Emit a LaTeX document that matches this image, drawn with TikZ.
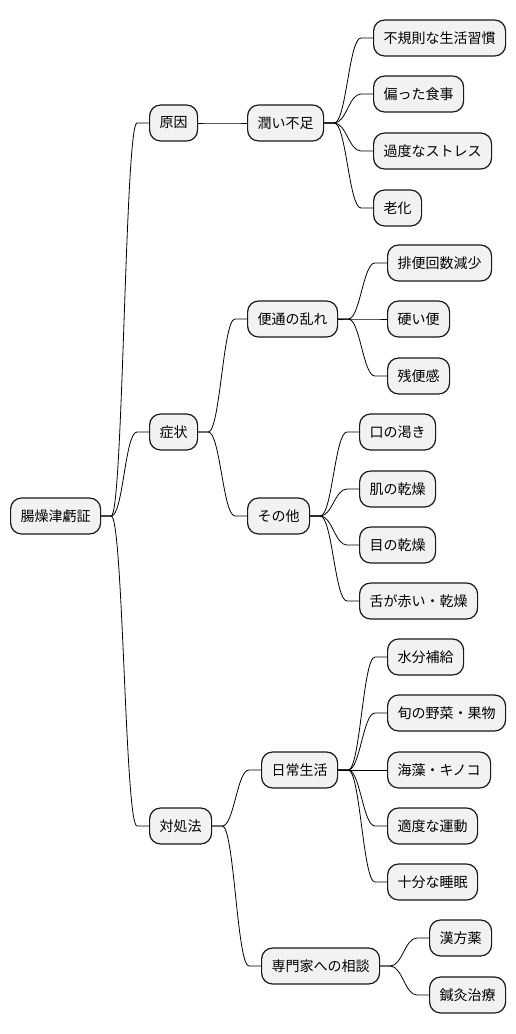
\documentclass[tikz,border=0pt]{standalone}
\usepackage{fontspec}
\setmainfont{Noto Sans CJK JP}
\begin{document}
\begin{tikzpicture}[x=1pt,y=-1pt,
				every node/.style={draw=black!90,fill=black!5,line width=1.2pt,rounded corners=11pt,
					anchor=west,minimum height=36pt,inner xsep=10pt,inner ysep=0pt,font=\fontsize{14pt}{16pt}\selectfont},
				link/.style={line width=0.8pt,to path={-- ++(10pt,0) .. controls +(12pt,0) and +(-12pt,0)
					.. ([xshift=-12pt]\tikztotarget) -- (\tikztotarget)}}]
\useasboundingbox (0,0) rectangle (516,1034);
\node (root) at (10,516) {腸燥津虧証};
% first level
\node (gen) at (149,123) {原因};
\node (sho) at (149,432) {症状};
\node (tai) at (149,826) {対処法};
% second level
\node (uru) at (247,123) {潤い不足};
\node (ben) at (247,319) {便通の乱れ};
\node (hoka) at (247,516) {その他};
\node (nichi) at (261,770) {日常生活};
\node (sen) at (261,966) {専門家への相談};
% leaves
\node (fuki) at (373,38) {不規則な生活習慣};
\node (katayo) at (373,94) {偏った食事};
\node (stress) at (373,151) {過度なストレス};
\node (roka) at (373,208) {老化};
\node (haiben) at (387,263) {排便回数減少};
\node (katai) at (387,319) {硬い便};
\node (zanben) at (387,376) {残便感};
\node (kuchi) at (359,432) {口の渇き};
\node (hada) at (359,489) {肌の乾燥};
\node (me) at (359,545) {目の乾燥};
\node (shita) at (359,601) {舌が赤い・乾燥};
\node (suibun) at (387,657) {水分補給};
\node (shun) at (387,713) {旬の野菜・果物};
\node (kaiso) at (387,770) {海藻・キノコ};
\node (undo) at (387,826) {適度な運動};
\node (suimin) at (387,882) {十分な睡眠};
\node (kanpo) at (429,938) {漢方薬};
\node (shinkyu) at (429,995) {鍼灸治療};
\foreach \p/\c in {root/gen,root/sho,root/tai,gen/uru,sho/ben,sho/hoka,tai/nichi,tai/sen,
	uru/fuki,uru/katayo,uru/stress,uru/roka,ben/haiben,ben/katai,ben/zanben,
	hoka/kuchi,hoka/hada,hoka/me,hoka/shita,nichi/suibun,nichi/shun,nichi/kaiso,nichi/undo,nichi/suimin,
	sen/kanpo,sen/shinkyu}
	\draw[link] (\p.east) to (\c.west);
\end{tikzpicture}
\end{document}
